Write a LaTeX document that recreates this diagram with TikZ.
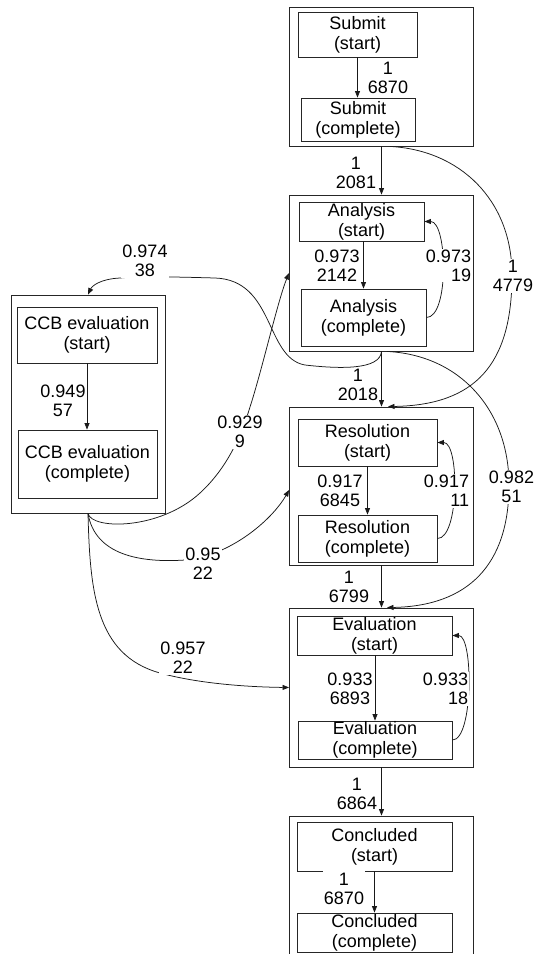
\documentclass[tikz,border=0pt]{standalone}
\usepackage{fontspec}
\setmainfont{Liberation Sans}
\usetikzlibrary{arrows.meta,calc}
\tikzset{
  box/.style={draw=black!85, line width=0.9pt, inner sep=0pt, align=center, font=\fontsize{18}{20}\selectfont},
  cluster/.style={draw=black!85, line width=0.9pt, inner sep=0pt},
  edge/.style={draw=black!90, line width=0.75pt, -{Triangle[length=6.5pt,width=5pt]}},
  lbl/.style={fill=white, inner sep=1pt, align=center, font=\fontsize{18}{19}\selectfont},
  lblr/.style={lbl, align=right},
  lbltall/.style={lbl, inner ysep=4.5pt},
}
\begin{document}
\begin{tikzpicture}[x=1pt,y=-1pt]
\useasboundingbox[fill=white] (0,0) rectangle (544,954);
% clusters
\node[cluster, minimum width=184pt, minimum height=139pt] (cl_sub) at (381.5,76.5) {};
\node[cluster, minimum width=184pt, minimum height=156pt] (cl_an) at (381.5,273) {};
\node[cluster, minimum width=184pt, minimum height=158pt] (cl_re) at (381.5,486) {};
\node[cluster, minimum width=184pt, minimum height=159pt] (cl_ev) at (381.5,687.5) {};
\node[cluster, minimum width=154pt, minimum height=218pt] (cl_ccb) at (88,404) {};
\begin{scope}
\clip (0,0) rectangle (544,954);
\node[cluster, minimum width=184pt, minimum height=180pt] (cl_co) at (381.5,906) {};
\end{scope}
% boxes
\node[box, minimum width=119pt, minimum height=45pt] (sub_s) at (357.5,34.5) {Submit\\(start)};
\node[box, minimum width=114pt, minimum height=43pt] (sub_c) at (358,119.5) {Submit\\(complete)};
\node[box, minimum width=125pt, minimum height=39pt] (an_s) at (361.5,221.5) {Analysis\\(start)};
\node[box, minimum width=125pt, minimum height=57pt] (an_c) at (363.5,317.5) {Analysis\\(complete)};
\node[box, minimum width=139pt, minimum height=47pt] (re_s) at (367.5,442.5) {Resolution\\(start)};
\node[box, minimum width=139pt, minimum height=47pt] (re_c) at (367.5,538.5) {Resolution\\(complete)};
\node[box, minimum width=155pt, minimum height=39pt] (ev_s) at (374.5,635.5) {Evaluation\\(start)};
\node[box, minimum width=154pt, minimum height=38pt] (ev_c) at (375,740) {Evaluation\\(complete)};
\node[box, minimum width=155pt, minimum height=49pt] (co_s) at (374.5,846.5) {Concluded\\(start)};
\node[box, minimum width=155pt, minimum height=39pt] (co_c) at (374.5,932.5) {Concluded\\(complete)};
\node[box, minimum width=140pt, minimum height=56pt] (ccb_s) at (87,335) {CCB evaluation\\(start)};
\node[box, minimum width=139pt, minimum height=68pt] (ccb_c) at (87.5,464) {CCB evaluation\\(complete)};
% straight edges
\draw[edge] (sub_s.south) -- (sub_s.south |- sub_c.north);
\draw[edge] (cl_sub.south) -- (cl_sub.south |- cl_an.north);
\draw[edge] (an_s.south -| an_c.north) -- (an_c.north);
\draw[edge] (cl_an.south) -- (cl_an.south |- cl_re.north);
\draw[edge] (re_s.south) -- (re_s.south |- re_c.north);
\draw[edge] (cl_re.south) -- (cl_re.south |- cl_ev.north);
\draw[edge] (ev_s.south -| ev_c.north) -- (ev_c.north);
\draw[edge] (cl_ev.south) -- (cl_ev.south |- cl_co.north);
\draw[edge] (co_s.south) -- (co_s.south |- co_c.north);
\draw[edge] (ccb_s.south) -- (ccb_s.south |- ccb_c.north);
% self loops
\draw[edge] (an_c.east) .. controls +(23,0) and +(23,0) .. (an_s.east);
\draw[edge] (re_c.east) .. controls +(22,0) and +(22,0) .. (re_s.east);
\draw[edge] (ev_c.east) .. controls +(21,0) and +(21,0) .. (ev_s.east);
% long curves
\draw[edge] ($(cl_sub.south)+(8.5,0)$) .. controls (460,150) and (512,200) .. (512,275)
  .. controls (512,365) and (475,405) .. ($(cl_re.north)+(6.5,0)$);
\draw[edge] ($(cl_an.south)+(5.5,0)$) .. controls (460,355) and (509,410) .. (509,485)
  .. controls (509,565) and (468,606) .. ($(cl_ev.north)+(5.5,0)$);
\draw[edge] (cl_an.south) .. controls (380,370) and (340,369) .. (305,365)
  .. controls (265,358) and (275,280) .. (215,278)
  .. controls (180,277) and (140,276) .. (120,278)
  .. controls (100,279) and (92,286) .. (cl_ccb.north);
\draw[edge] (cl_ccb.south) .. controls (92,530) and (160,530) .. (200,493)
  .. controls (225,470) and (240,440) .. (250,407)
  .. controls (262,370) and (278,300) .. (cl_an.west);
\draw[edge] (cl_ccb.south) .. controls (95,555) and (140,563) .. (185,560)
  .. controls (230,556) and (272,520) .. ($(cl_re.west)+(0,4)$);
\draw[edge] (cl_ccb.south) .. controls (90,590) and (95,655) .. (160,673)
  .. controls (200,684) and (250,687) .. (cl_ev.west);
% labels
\node[lbltall] (t1) at (388,78) {1\\6870};
\node[lbl] (t2) at (356,173) {1\\2081};
\node[lbl] (t3) at (337,265.5) {0.973\\2142};
\node[lblr] (t4) at (448.5,265.5) {0.973\\19};
\node[lbl] (t5) at (513,276) {1\\4779};
\node[lbl] (t6) at (145,261) {0.974\\38};
\node[lbl] (t7) at (358,384.5) {1\\2018};
\node[lbl] (t8) at (240,432) {0.929\\9};
\node[lbl] (t9) at (63,400.5) {0.949\\57};
\node[lbl] (t10) at (340,491) {0.917\\6845};
\node[lblr] (t11) at (446.5,491) {0.917\\11};
\node[lbl] (t12) at (511.5,487) {0.982\\51};
\node[lbl] (t13) at (203,564) {0.95\\22};
\node[lbl] (t14) at (349,587) {1\\6799};
\node[lbl] (t15) at (183,658) {0.957\\22};
\node[lbl] (t16) at (350,689) {0.933\\6893};
\node[lblr] (t17) at (445.5,689) {0.933\\18};
\node[lbl] (t18) at (357,793.5) {1\\6864};
\node[lbltall] (t19) at (344,888.5) {1\\6870};
\end{tikzpicture}
\end{document}
